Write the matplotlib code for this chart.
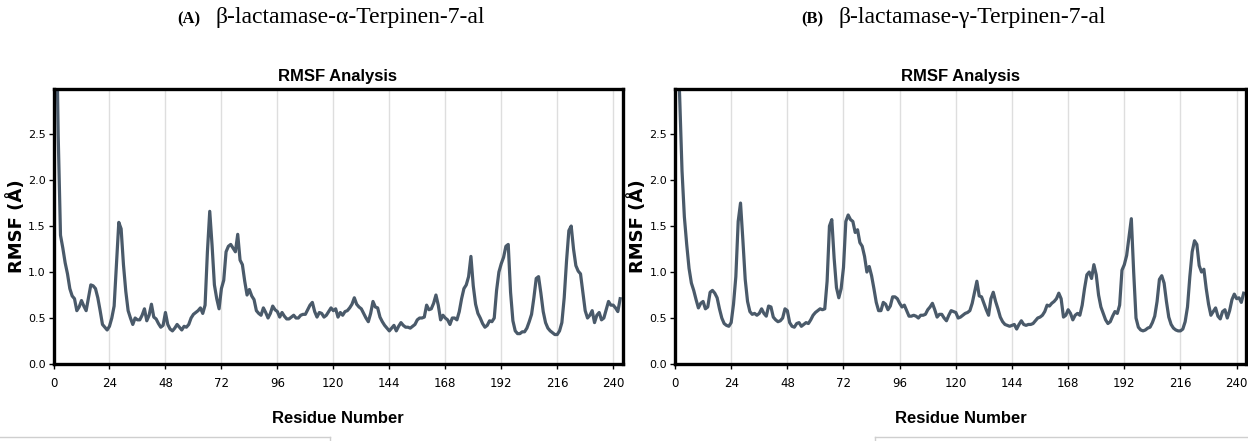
import matplotlib
matplotlib.use("Agg")
import matplotlib.pyplot as plt
from matplotlib.lines import Line2D
import numpy as np

# RMSF per residue (A)
rmsf_alpha = [
    4.2, 2.5, 1.40, 1.26, 1.10, 0.98, 0.82, 0.74, 0.71, 0.58,
    0.62, 0.69, 0.63, 0.58, 0.72, 0.86, 0.85, 0.82, 0.72, 0.58,
    0.43, 0.40, 0.37, 0.41, 0.50, 0.63, 1.08, 1.54, 1.47, 1.08,
    0.79, 0.58, 0.50, 0.43, 0.50, 0.48, 0.48, 0.53, 0.60, 0.47,
    0.53, 0.65, 0.51, 0.49, 0.44, 0.40, 0.42, 0.56, 0.43, 0.38,
    0.36, 0.39, 0.43, 0.40, 0.37, 0.41, 0.40, 0.43, 0.50, 0.54,
    0.56, 0.58, 0.61, 0.55, 0.64, 1.22, 1.66, 1.29, 0.86, 0.71,
    0.60, 0.82, 0.91, 1.22, 1.28, 1.30, 1.26, 1.22, 1.41, 1.13,
    1.08, 0.90, 0.75, 0.81, 0.74, 0.70, 0.58, 0.55, 0.53, 0.61,
    0.56, 0.50, 0.55, 0.63, 0.59, 0.57, 0.51, 0.56, 0.52, 0.49,
    0.49, 0.51, 0.53, 0.50, 0.50, 0.53, 0.54, 0.54, 0.59, 0.64,
    0.67, 0.57, 0.51, 0.56, 0.55, 0.51, 0.53, 0.57, 0.61, 0.58,
    0.60, 0.51, 0.56, 0.53, 0.57, 0.58, 0.61, 0.65, 0.72, 0.65,
    0.62, 0.60, 0.55, 0.50, 0.46, 0.55, 0.68, 0.62, 0.61, 0.51,
    0.46, 0.42, 0.39, 0.36, 0.39, 0.42, 0.36, 0.41, 0.45, 0.42,
    0.40, 0.40, 0.39, 0.41, 0.43, 0.48, 0.50, 0.50, 0.51, 0.64,
    0.59, 0.60, 0.66, 0.75, 0.64, 0.48, 0.53, 0.50, 0.48, 0.43,
    0.50, 0.50, 0.48, 0.57, 0.71, 0.82, 0.86, 0.95, 1.17, 0.85,
    0.65, 0.55, 0.50, 0.44, 0.40, 0.42, 0.47, 0.46, 0.50, 0.80,
    1.00, 1.09, 1.16, 1.28, 1.30, 0.78, 0.47, 0.36, 0.33, 0.33,
    0.35, 0.35, 0.39, 0.46, 0.54, 0.72, 0.93, 0.95, 0.77, 0.57,
    0.45, 0.39, 0.36, 0.34, 0.32, 0.32, 0.36, 0.45, 0.72, 1.12,
    1.45, 1.50, 1.25, 1.07, 1.01, 0.98, 0.78, 0.58, 0.50, 0.53,
    0.58, 0.45, 0.53, 0.56, 0.48, 0.50, 0.59, 0.68, 0.64, 0.64,
    0.61, 0.57, 0.71,
]

rmsf_gamma = [
    3.6, 2.9, 2.1, 1.60, 1.30, 1.04, 0.88, 0.80, 0.70, 0.61,
    0.66, 0.68, 0.60, 0.62, 0.78, 0.80, 0.77, 0.72, 0.60, 0.50,
    0.44, 0.42, 0.41, 0.45, 0.65, 0.95, 1.55, 1.75, 1.35, 0.92,
    0.68, 0.57, 0.54, 0.55, 0.53, 0.55, 0.60, 0.55, 0.52, 0.63,
    0.62, 0.51, 0.48, 0.46, 0.47, 0.50, 0.60, 0.58, 0.45, 0.41,
    0.40, 0.44, 0.45, 0.41, 0.43, 0.45, 0.44, 0.48, 0.53, 0.56,
    0.58, 0.60, 0.59, 0.60, 0.90, 1.50, 1.57, 1.15, 0.83, 0.72,
    0.82, 1.05, 1.55, 1.62, 1.57, 1.55, 1.43, 1.46, 1.32, 1.28,
    1.17, 1.00, 1.06, 0.96, 0.82, 0.67, 0.58, 0.58, 0.67, 0.65,
    0.59, 0.63, 0.73, 0.73, 0.71, 0.66, 0.62, 0.64, 0.58, 0.52,
    0.52, 0.53, 0.52, 0.50, 0.53, 0.53, 0.54, 0.59, 0.62, 0.66,
    0.59, 0.51, 0.54, 0.54, 0.50, 0.47, 0.53, 0.58, 0.57, 0.56,
    0.50, 0.51, 0.53, 0.55, 0.56, 0.58, 0.66, 0.78, 0.90, 0.74,
    0.73, 0.66, 0.59, 0.53, 0.71, 0.78, 0.68, 0.60, 0.51, 0.46,
    0.43, 0.42, 0.41, 0.42, 0.43, 0.38, 0.43, 0.47, 0.43, 0.42,
    0.43, 0.43, 0.44, 0.47, 0.50, 0.51, 0.53, 0.57, 0.64, 0.63,
    0.66, 0.68, 0.71, 0.77, 0.71, 0.51, 0.53, 0.59, 0.55, 0.48,
    0.53, 0.55, 0.53, 0.64, 0.82, 0.97, 1.00, 0.93, 1.08, 0.97,
    0.75, 0.62, 0.55, 0.48, 0.44, 0.46, 0.52, 0.57, 0.55, 0.64,
    1.02, 1.08, 1.18, 1.38, 1.58, 1.00, 0.50, 0.40, 0.37, 0.36,
    0.37, 0.39, 0.40, 0.45, 0.52, 0.68, 0.92, 0.96, 0.88, 0.68,
    0.51, 0.43, 0.39, 0.37, 0.36, 0.36, 0.38, 0.46, 0.62, 0.95,
    1.22, 1.34, 1.30, 1.07, 1.00, 1.03, 0.82, 0.65, 0.53, 0.57,
    0.61, 0.52, 0.49, 0.57, 0.59, 0.50, 0.58, 0.70, 0.76, 0.71,
    0.72, 0.67, 0.77,
]

panel_titles = ["β-lactamase-α-Terpinen-7-al", "β-lactamase-γ-Terpinen-7-al"]
panel_tags = ["(A)", "(B)"]
x_ticks = [0, 24, 48, 72, 96, 120, 144, 168, 192, 216, 240]
y_ticks = [0.0, 0.5, 1.0, 1.5, 2.0, 2.5]

line_color = "#4a5a6a"

fig = plt.figure(figsize=(12.48, 4.41), dpi=100)
W, H = 1248, 441

# axes boxes in pixels: left, right
boxes = [(53.5, 622.5), (675.0, 1246.0)]
top_px, bot_px = 89, 364

for i, series in enumerate([rmsf_alpha, rmsf_gamma]):
    l, r = boxes[i]
    ax = fig.add_axes([l / W, (H - bot_px) / H, (r - l) / W, (bot_px - top_px) / H])
    residues = np.arange(1, len(series) + 1)
    ax.plot(residues, series, color=line_color, linewidth=2.3, solid_joinstyle="round")
    ax.set_xlim(0, 244)
    ax.set_ylim(0, 2.99)
    ax.set_xticks(x_ticks)
    ax.set_yticks(y_ticks)
    ax.set_xticklabels([str(t) for t in x_ticks], fontsize=8.5)
    ax.set_yticklabels([f"{t:.1f}" for t in y_ticks], fontsize=8)
    ax.tick_params(length=3.5, width=1, color="black", pad=2)
    ax.tick_params(axis="x", pad=6)
    ax.grid(axis="x", color="#dedede", linewidth=1)
    ax.set_axisbelow(True)
    for s in ax.spines.values():
        s.set_linewidth(2.4)
        s.set_color("black")

    cx = (l + r) / 2 / W
    ax.set_title("RMSF Analysis", family="Liberation Sans", fontweight="bold",
                 fontsize=12, pad=6)
    ax.set_xlabel("Residue Number", family="Liberation Sans", fontweight="bold",
                  fontsize=12, labelpad=15)
    fig.text((l - 37) / W, 1 - 226 / H, "RMSF (Å)", family="DejaVu Sans",
             fontweight="bold", fontsize=13, rotation=90, ha="center", va="center")

    # panel heading, serif like the figure caption
    fig.text(cx - 0.110, 1 - 19 / H, panel_tags[i], family="Liberation Serif",
             fontweight="bold", fontsize=12, ha="right", va="center")
    fig.text(cx - 0.098, 1 - 17 / H, panel_titles[i], family="Liberation Serif",
             fontsize=17, ha="left", va="center")

# faint frame edges at the bottom of the composite
fig.add_artist(Line2D([0, 330 / W], [4 / H, 4 / H], color="#cfcfcf", lw=1))
fig.add_artist(Line2D([330 / W, 330 / W], [0, 4 / H], color="#cfcfcf", lw=1))
fig.add_artist(Line2D([875 / W, 1], [4 / H, 4 / H], color="#cfcfcf", lw=1))
fig.add_artist(Line2D([875 / W, 875 / W], [0, 4 / H], color="#cfcfcf", lw=1))

fig.savefig("out.png", dpi=100)
